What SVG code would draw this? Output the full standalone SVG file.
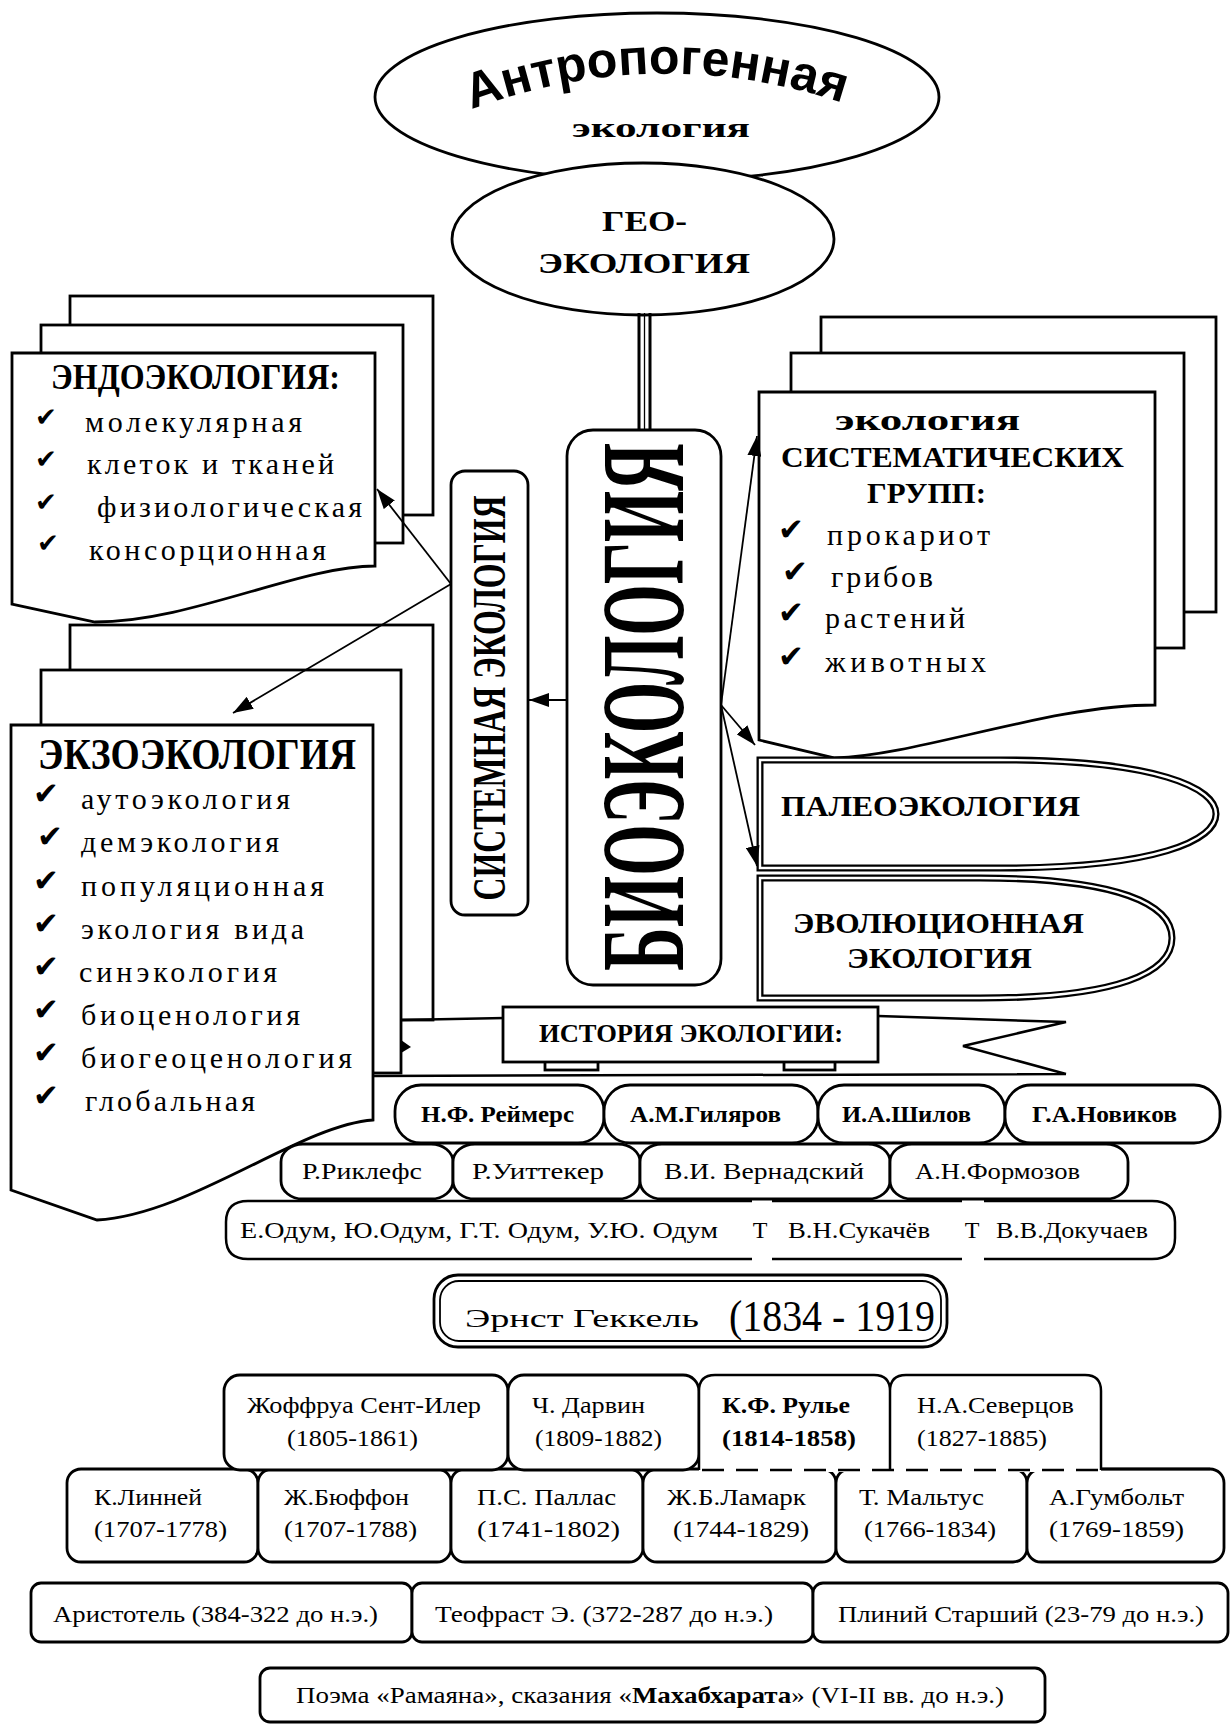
<svg xmlns="http://www.w3.org/2000/svg" width="1230" height="1725" viewBox="0 0 1230 1725">
<style>
.s{fill:#fff;stroke:#000;stroke-width:2.8}
.l{fill:none;stroke:#000;stroke-width:2.5}
.a{fill:none;stroke:#000;stroke-width:1.8}
.d1{fill:#fff;stroke:#000;stroke-width:7}
.d2{fill:none;stroke:#fff;stroke-width:2.4}
text{font-family:"Liberation Serif","DejaVu Serif",serif;fill:#000}
.b{font-weight:bold}
.h{font-size:24px}
.it{font-size:30px}
.ck{font-family:"DejaVu Sans",sans-serif;font-size:31px}
.ck2{font-family:"DejaVu Sans",sans-serif;font-size:26px}
</style>
<defs>
<marker id="ah" viewBox="0 0 20 14" refX="20" refY="7" markerWidth="20" markerHeight="14" markerUnits="userSpaceOnUse" orient="auto"><path d="M0,0 L20,7 L0,14 z" fill="#000"/></marker>
<path id="arc" d="M 462 113 Q 656 38 852 106"/>
</defs>
<rect width="1230" height="1725" fill="#fff"/>

<g id="antropogenic">
<ellipse class="s" cx="657" cy="97" rx="282" ry="84"/>
<text style="font-family:'Liberation Sans','DejaVu Sans',sans-serif;font-weight:bold;font-size:50px"><textPath href="#arc" startOffset="50%" text-anchor="middle">Антропогенная</textPath></text>
<text class="b" x="572" y="137" font-size="27" textLength="178" lengthAdjust="spacingAndGlyphs">экология</text>
</g>

<g id="geo">
<ellipse class="s" cx="643" cy="239" rx="191" ry="76"/>
<text class="b" x="602" y="231" font-size="29" textLength="85" lengthAdjust="spacingAndGlyphs">ГЕО-</text>
<text class="b" x="538" y="273" font-size="29" textLength="212" lengthAdjust="spacingAndGlyphs">ЭКОЛОГИЯ</text>
</g>

<g id="endo">
<rect class="s" x="70" y="296" width="363" height="219"/>
<rect class="s" x="41" y="325" width="362" height="218"/>
<path class="s" d="M 12 353 H 375 V 566 C 300 566, 190 622, 95 622 L 12 604 Z"/>
<text class="b" x="51" y="389" font-size="35" textLength="289" lengthAdjust="spacingAndGlyphs">ЭНДОЭКОЛОГИЯ:</text>
<text class="ck2" x="35" y="426">✔</text>
<text class="ck2" x="35" y="468">✔</text>
<text class="ck2" x="35" y="511">✔</text>
<text class="ck2" x="37" y="552" font-size="20">✔</text>
<text class="it" x="85" y="432" textLength="217" lengthAdjust="spacing">молекулярная</text>
<text class="it" x="87" y="474" textLength="247" lengthAdjust="spacing">клеток и тканей</text>
<text class="it" x="97" y="517" textLength="265" lengthAdjust="spacing">физиологическая</text>
<text class="it" x="89" y="560" textLength="237" lengthAdjust="spacing">консорционная</text>
</g>

<g id="exo">
<rect class="s" x="70" y="625" width="363" height="395"/>
<rect class="s" x="41" y="670" width="360" height="403"/>
<path class="s" d="M 11 725 H 373 V 1120 C 300 1125, 190 1215, 97 1220 L 11 1190 Z"/>
<text class="b" x="38" y="769" font-size="44" textLength="318" lengthAdjust="spacingAndGlyphs">ЭКЗОЭКОЛОГИЯ</text>
<text class="ck" x="33" y="804">✔</text>
<text class="ck" x="37" y="847">✔</text>
<text class="ck" x="33" y="891">✔</text>
<text class="ck" x="33" y="934">✔</text>
<text class="ck" x="33" y="977">✔</text>
<text class="ck" x="33" y="1020">✔</text>
<text class="ck" x="33" y="1063">✔</text>
<text class="ck" x="33" y="1106">✔</text>
<text class="it" x="81" y="809" textLength="209" lengthAdjust="spacing">аутоэкология</text>
<text class="it" x="81" y="852" textLength="198" lengthAdjust="spacing">демэкология</text>
<text class="it" x="81" y="896" textLength="243" lengthAdjust="spacing">популяционная</text>
<text class="it" x="81" y="939" textLength="223" lengthAdjust="spacing">экология вида</text>
<text class="it" x="79" y="982" textLength="198" lengthAdjust="spacing">синэкология</text>
<text class="it" x="81" y="1025" textLength="219" lengthAdjust="spacing">биоценология</text>
<text class="it" x="81" y="1068" textLength="271" lengthAdjust="spacing">биогеоценология</text>
<text class="it" x="85" y="1111" textLength="170" lengthAdjust="spacing">глобальная</text>
</g>

<g id="taxa">
<rect class="s" x="821" y="317" width="395" height="295"/>
<rect class="s" x="791" y="353" width="393" height="295"/>
<path class="s" d="M 759 392 H 1155 V 705 C 1050 705, 920 755, 835 758 L 759 740 Z"/>
<text class="b" x="835" y="430" font-size="29" textLength="185" lengthAdjust="spacingAndGlyphs">экология</text>
<text class="b" x="781" y="467" font-size="30" textLength="343" lengthAdjust="spacingAndGlyphs">СИСТЕМАТИЧЕСКИХ</text>
<text class="b" x="867" y="503" font-size="30" textLength="119" lengthAdjust="spacingAndGlyphs">ГРУПП:</text>
<text class="ck" x="778" y="540">✔</text>
<text class="ck" x="782" y="582">✔</text>
<text class="ck" x="778" y="623">✔</text>
<text class="ck" x="778" y="667">✔</text>
<text class="it" x="827" y="545" textLength="163" lengthAdjust="spacing">прокариот</text>
<text class="it" x="831" y="587" textLength="102" lengthAdjust="spacing">грибов</text>
<text class="it" x="825" y="628" textLength="140" lengthAdjust="spacing">растений</text>
<text class="it" x="825" y="672" textLength="161" lengthAdjust="spacing">животных</text>
</g>

<g id="systemic">
<rect class="s" x="451" y="471" width="77" height="444" rx="14"/>
<text class="b" transform="translate(505 698) rotate(-90)" font-size="47" text-anchor="middle" textLength="405" lengthAdjust="spacingAndGlyphs">СИСТЕМНАЯ ЭКОЛОГИЯ</text>
</g>

<g id="bioecology">
<rect class="s" x="567" y="430" width="154" height="555" rx="26"/>
<text class="b" transform="translate(683 707) rotate(-90)" font-size="118" text-anchor="middle" textLength="528" lengthAdjust="spacingAndGlyphs">БИОЭКОЛОГИЯ</text>
</g>

<g id="paleo">
<path class="d1" d="M 760 760 H 1000 C 1158 760, 1216 788, 1216 814 C 1216 840, 1158 868, 1000 868 H 760 Z"/>
<path class="d2" d="M 760 760 H 1000 C 1158 760, 1216 788, 1216 814 C 1216 840, 1158 868, 1000 868 H 760 Z"/>
<text class="b" x="781" y="816" font-size="29" textLength="299" lengthAdjust="spacingAndGlyphs">ПАЛЕОЭКОЛОГИЯ</text>
</g>

<g id="evolution">
<path class="d1" d="M 760 878 H 980 C 1120 878, 1172 905, 1172 938 C 1172 972, 1120 998, 980 998 H 760 Z"/>
<path class="d2" d="M 760 878 H 980 C 1120 878, 1172 905, 1172 938 C 1172 972, 1120 998, 980 998 H 760 Z"/>
<text class="b" x="793" y="933" font-size="29" textLength="291" lengthAdjust="spacingAndGlyphs">ЭВОЛЮЦИОННАЯ</text>
<text class="b" x="847" y="968" font-size="29" textLength="185" lengthAdjust="spacingAndGlyphs">ЭКОЛОГИЯ</text>
</g>

<g id="history-banner">
<path class="l" d="M 401 1020 L 505 1018 M 373 1076 L 1066 1074 M 878 1016 L 1066 1022 L 963 1046 L 1066 1074"/>
<path d="M 401 1040 L 411 1047 L 401 1053 Z" fill="#000"/>
<rect class="s" x="545" y="1060" width="53" height="10"/>
<rect class="s" x="784" y="1060" width="51" height="10"/>
<rect class="s" x="503" y="1007" width="375" height="55"/>
<text class="b" x="539" y="1042" font-size="25" textLength="304" lengthAdjust="spacingAndGlyphs">ИСТОРИЯ ЭКОЛОГИИ:</text>
</g>

<g id="history-row1">
<rect class="s" x="395" y="1085" width="209" height="58" rx="26"/>
<rect class="s" x="604" y="1085" width="214" height="58" rx="26"/>
<rect class="s" x="818" y="1085" width="187" height="58" rx="26"/>
<rect class="s" x="1005" y="1085" width="215" height="58" rx="26"/>
<text class="h b" x="421" y="1122" textLength="153" lengthAdjust="spacingAndGlyphs">Н.Ф. Реймерс</text>
<text class="h b" x="630" y="1122" textLength="151" lengthAdjust="spacingAndGlyphs">А.М.Гиляров</text>
<text class="h b" x="842" y="1122" textLength="129" lengthAdjust="spacingAndGlyphs">И.А.Шилов</text>
<text class="h b" x="1032" y="1122" textLength="145" lengthAdjust="spacingAndGlyphs">Г.А.Новиков</text>
</g>

<g id="history-row2">
<rect class="s" x="281" y="1144" width="172" height="55" rx="22" ry="18"/>
<rect class="s" x="453" y="1144" width="187" height="55" rx="22" ry="18"/>
<rect class="s" x="640" y="1144" width="250" height="55" rx="22" ry="18"/>
<rect class="s" x="890" y="1144" width="238" height="55" rx="22" ry="18"/>
<text class="h" x="302" y="1179" textLength="120" lengthAdjust="spacingAndGlyphs">Р.Риклефс</text>
<text class="h" x="472" y="1179" textLength="132" lengthAdjust="spacingAndGlyphs">Р.Уиттекер</text>
<text class="h" x="664" y="1179" textLength="200" lengthAdjust="spacingAndGlyphs">В.И. Вернадский</text>
<text class="h" x="915" y="1179" textLength="165" lengthAdjust="spacingAndGlyphs">А.Н.Формозов</text>
</g>

<g id="history-row3">
<path class="l" d="M 248 1201 Q 226 1201 226 1222 V 1238 Q 226 1259 248 1259 M 248 1201 H 752 M 772 1201 H 962 M 984 1201 H 1152 M 1152 1201 Q 1175 1201 1175 1222 V 1238 Q 1175 1259 1152 1259 M 248 1259 H 752 M 772 1259 H 962 M 984 1259 H 1152"/>
<text class="h" x="240" y="1238" textLength="478" lengthAdjust="spacingAndGlyphs">Е.Одум, Ю.Одум, Г.Т. Одум, У.Ю. Одум</text>
<text class="h" x="760" y="1238" text-anchor="middle">Т</text>
<text class="h" x="788" y="1238" textLength="142" lengthAdjust="spacingAndGlyphs">В.Н.Сукачёв</text>
<text class="h" x="972" y="1238" text-anchor="middle">Т</text>
<text class="h" x="996" y="1238" textLength="152" lengthAdjust="spacingAndGlyphs">В.В.Докучаев</text>
</g>

<g id="haeckel">
<rect class="s" x="434" y="1275" width="513" height="72" rx="24"/>
<rect class="a" x="440" y="1281" width="501" height="60" rx="19"/>
<text x="465" y="1327" font-size="26" textLength="234" lengthAdjust="spacingAndGlyphs">Эрнст  Геккель</text>
<text x="729" y="1331" font-size="44" textLength="206" lengthAdjust="spacingAndGlyphs">(1834 - 1919</text>
</g>

<g id="history-row5">
<rect class="s" x="67" y="1469" width="191" height="93" rx="14"/>
<rect class="s" x="258" y="1469" width="193" height="93" rx="14"/>
<rect class="s" x="451" y="1469" width="192" height="93" rx="14"/>
<rect class="s" x="643" y="1469" width="193" height="93" rx="14"/>
<rect class="s" x="836" y="1469" width="191" height="93" rx="14"/>
<rect class="s" x="1027" y="1469" width="197" height="93" rx="14"/>
<text class="h" x="94" y="1505" textLength="108" lengthAdjust="spacingAndGlyphs">К.Линней</text>
<text class="h" x="94" y="1537" textLength="133" lengthAdjust="spacingAndGlyphs">(1707-1778)</text>
<text class="h" x="284" y="1505" textLength="125" lengthAdjust="spacingAndGlyphs">Ж.Бюффон</text>
<text class="h" x="284" y="1537" textLength="133" lengthAdjust="spacingAndGlyphs">(1707-1788)</text>
<text class="h" x="477" y="1505" textLength="139" lengthAdjust="spacingAndGlyphs">П.С. Паллас</text>
<text class="h" x="477" y="1537" textLength="143" lengthAdjust="spacingAndGlyphs">(1741-1802)</text>
<text class="h" x="667" y="1505" textLength="139" lengthAdjust="spacingAndGlyphs">Ж.Б.Ламарк</text>
<text class="h" x="673" y="1537" textLength="136" lengthAdjust="spacingAndGlyphs">(1744-1829)</text>
<text class="h" x="859" y="1505" textLength="125" lengthAdjust="spacingAndGlyphs">Т. Мальтус</text>
<text class="h" x="864" y="1537" textLength="132" lengthAdjust="spacingAndGlyphs">(1766-1834)</text>
<text class="h" x="1049" y="1505" textLength="135" lengthAdjust="spacingAndGlyphs">А.Гумбольт</text>
<text class="h" x="1049" y="1537" textLength="135" lengthAdjust="spacingAndGlyphs">(1769-1859)</text>
</g>

<g id="history-row4">
<rect class="s" x="224" y="1375" width="284" height="95" rx="16"/>
<rect class="s" x="508" y="1375" width="191" height="95" rx="16"/>
<rect x="699" y="1375" width="402" height="97" fill="#fff"/>
<path class="l" d="M 699 1470 V 1391 Q 699 1375 715 1375 H 874 Q 890 1375 890 1391 V 1470 M 890 1391 Q 890 1375 906 1375 H 1085 Q 1101 1375 1101 1391 V 1470"/>
<path class="l" d="M 702 1470 H 1104" stroke-dasharray="22 12"/>
<path class="l" d="M 1101 1469 H 1210"/>
<text class="h" x="247" y="1413" textLength="234" lengthAdjust="spacingAndGlyphs">Жоффруа Сент-Илер</text>
<text class="h" x="287" y="1446" textLength="131" lengthAdjust="spacingAndGlyphs">(1805-1861)</text>
<text class="h" x="532" y="1413" textLength="113" lengthAdjust="spacingAndGlyphs">Ч. Дарвин</text>
<text class="h" x="535" y="1446" textLength="127" lengthAdjust="spacingAndGlyphs">(1809-1882)</text>
<text class="h b" x="722" y="1413" textLength="128" lengthAdjust="spacingAndGlyphs">К.Ф. Рулье</text>
<text class="h b" x="722" y="1446" textLength="134" lengthAdjust="spacingAndGlyphs">(1814-1858)</text>
<text class="h" x="917" y="1413" textLength="157" lengthAdjust="spacingAndGlyphs">Н.А.Северцов</text>
<text class="h" x="917" y="1446" textLength="130" lengthAdjust="spacingAndGlyphs">(1827-1885)</text>
</g>

<g id="history-row6">
<rect class="s" x="31" y="1583" width="381" height="59" rx="10"/>
<rect class="s" x="412" y="1583" width="401" height="59" rx="10"/>
<rect class="s" x="813" y="1583" width="415" height="59" rx="10"/>
<text class="h" x="53" y="1622" textLength="325" lengthAdjust="spacingAndGlyphs">Аристотель (384-322 до н.э.)</text>
<text class="h" x="435" y="1622" textLength="338" lengthAdjust="spacingAndGlyphs">Теофраст  Э. (372-287 до н.э.)</text>
<text class="h" x="838" y="1622" textLength="366" lengthAdjust="spacingAndGlyphs">Плиний  Старший (23-79 до н.э.)</text>
</g>

<g id="history-row7">
<rect class="s" x="260" y="1668" width="785" height="54" rx="10"/>
<text class="h" x="296" y="1703" textLength="708" lengthAdjust="spacingAndGlyphs">Поэма  «Рамаяна»,  сказания «<tspan font-weight="bold">Махабхарата</tspan>»  (VI-II вв. до н.э.)</text>
</g>

<g id="connectors">
<path d="M 639 313 V 430 M 650 313 V 430" stroke="#000" stroke-width="3" fill="none"/>
<path d="M 644.5 313 V 430" stroke="#000" stroke-width="1.3" fill="none"/>
<path class="a" d="M 567 700 H 529" marker-end="url(#ah)"/>
<path class="a" d="M 451 584 L 377 489" marker-end="url(#ah)"/>
<path class="a" d="M 451 584 L 233 713" marker-end="url(#ah)"/>
<path class="a" d="M 721 705 L 757 436" marker-end="url(#ah)"/>
<path class="a" d="M 721 705 L 755 745" marker-end="url(#ah)"/>
<path class="a" d="M 721 705 L 757 866" marker-end="url(#ah)"/>
</g>
</svg>
